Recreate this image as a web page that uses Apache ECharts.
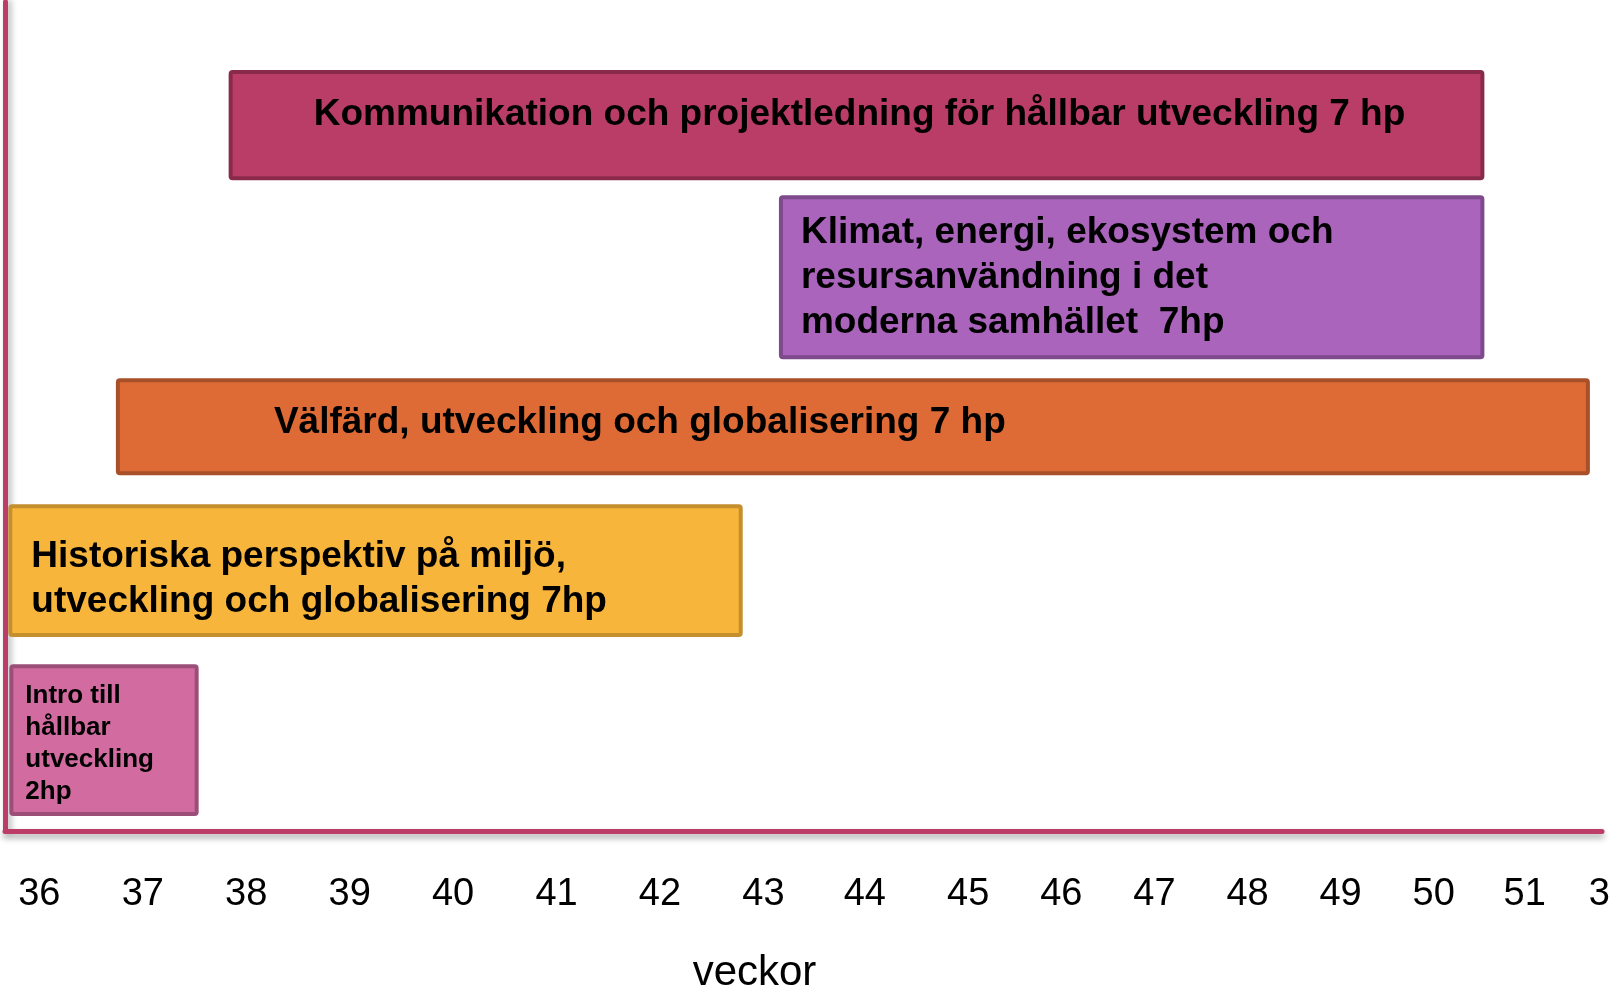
<!DOCTYPE html>
<html>
<head>
<meta charset="utf-8">
<script src="https://cdn.jsdelivr.net/npm/echarts@6/dist/echarts.min.js"></script>
<style>
  html, body { margin: 0; padding: 0; background: #fff; }
  #chart { width: 1622px; height: 989px; }
</style>
</head>
<body>
<div id="chart"></div>
<script>
// courses (chronological), start/end in weeks, lane bounds in row units (0-100)
const courses = [
  'Intro till\nhållbar\nutveckling\n2hp',
  'Historiska perspektiv på miljö,\nutveckling och globalisering 7hp',
  'Välfärd, utveckling och globalisering 7 hp',
  'Kommunikation och projektledning för hållbar utveckling 7 hp',
  'Klimat, energi, ekosystem och\nresursanvändning i det\nmoderna samhället  7hp'
]
const startWeek = [35.71, 35.70, 36.74, 37.83, 43.15]
const endWeek = [37.54, 42.80, 50.99, 49.97, 49.97]
const laneLow = [1.8, 23.4, 42.9, 78.5, 56.9]
const laneHigh = [20.1, 39.4, 54.6, 91.8, 76.7]

// tick labels along the week axis and where they sit
const tickLabels = ['36', '37', '38', '39', '40', '41', '42', '43', '44', '45', '46', '47', '48', '49', '50', '51', '3']
const tickPos = [36, 37, 38, 39, 40, 41, 42, 43, 43.98, 44.98, 45.88, 46.78, 47.68, 48.58, 49.48, 50.36, 51.08]

// look of each box
const boxStyle = [
  { fill: '#D16BA0', stroke: '#9B4E77', align: 'left', dx: 16, dy: 31, size: 26, lh: 32 },
  { fill: '#F8B53B', stroke: '#C58F2E', align: 'left', dx: 23, dy: 52, size: 37, lh: 45 },
  { fill: '#DE6B35', stroke: '#A8502A', align: 'left', dx: 158, dy: 44, size: 37, lh: 45 },
  { fill: '#B93D66', stroke: '#8A2A4B', align: 'center', dx: 3, dy: 45, size: 37, lh: 45 },
  { fill: '#AA64BC', stroke: '#7E4A8C', align: 'left', dx: 22, dy: 38, size: 37, lh: 45 }
]

const FONT = '"Liberation Sans", Arial, sans-serif'
const axisColor = '#BD3D69'

const seriesData = courses.map((name, i) => ({
  name: name,
  value: [startWeek[i], endWeek[i], laneLow[i], laneHigh[i]]
}))

function renderItem(params, api) {
  const i = params.dataIndex
  const st = boxStyle[i]
  const tl = api.coord([api.value(0), api.value(3)])
  const br = api.coord([api.value(1), api.value(2)])
  const lw = 4
  const x = tl[0], y = tl[1], w = br[0] - tl[0], h = br[1] - tl[1]
  const tx = st.align === 'center' ? x + w / 2 + st.dx : x + st.dx
  return {
    type: 'group',
    children: [
      {
        type: 'rect',
        shape: { x: x + lw / 2, y: y + lw / 2, width: w - lw, height: h - lw, r: 2 },
        style: { fill: st.fill, stroke: st.stroke, lineWidth: lw }
      },
      {
        type: 'text',
        style: {
          x: tx,
          y: y + st.dy - st.lh / 2,
          text: courses[i],
          fill: '#000',
          font: 'bold ' + st.size + 'px ' + FONT,
          align: st.align,
          verticalAlign: 'top',
          lineHeight: st.lh
        }
      }
    ]
  }
}

const option = {
  backgroundColor: '#fff',
  animation: false,
  grid: {
    left: 5,
    right: 20,
    top: 2,
    bottom: 158,
    containLabel: false,
    outerBoundsMode: 'none'
  },
  xAxis: {
    type: 'value',
    min: 35.668,
    max: 51.107,
    name: 'veckor',
    nameLocation: 'middle',
    nameGap: 121,
    nameTextStyle: {
      fontFamily: FONT,
      fontSize: 42,
      color: '#000',
      padding: [0, 98, 0, 0]
    },
    axisLine: {
      show: true,
      lineStyle: {
        color: axisColor,
        width: 5,
        shadowColor: 'rgba(0,0,0,0.35)',
        shadowBlur: 6,
        shadowOffsetY: 4
      }
    },
    axisTick: { show: false },
    splitLine: { show: false },
    axisLabel: {
      customValues: tickPos,
      formatter: function (v) {
        return tickLabels[tickPos.indexOf(v)]
      },
      margin: 45,
      fontFamily: FONT,
      fontSize: 38,
      lineHeight: 38,
      color: '#000'
    }
  },
  yAxis: {
    type: 'value',
    min: 0,
    max: 100,
    axisLine: {
      show: true,
      lineStyle: {
        color: axisColor,
        width: 5,
        shadowColor: 'rgba(0,0,0,0.3)',
        shadowBlur: 6,
        shadowOffsetX: 3
      }
    },
    axisTick: { show: false },
    axisLabel: { show: false },
    splitLine: { show: false }
  },
  series: [
    {
      type: 'custom',
      renderItem: renderItem,
      encode: { x: [0, 1], y: [2, 3] },
      data: seriesData
    }
  ]
}

const chart = echarts.init(document.getElementById('chart'))
chart.setOption(option)
</script>
</body>
</html>
